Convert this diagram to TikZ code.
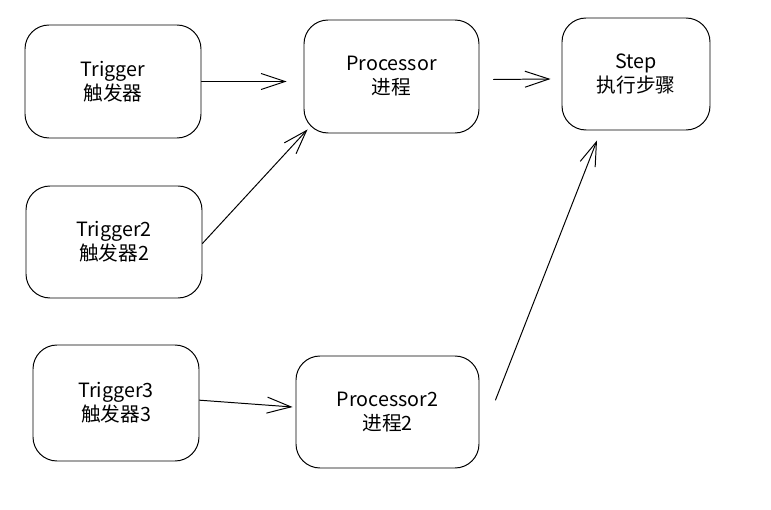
\documentclass[tikz,border=0pt]{standalone}
\usepackage{fontspec}
\setmainfont{Noto Sans CJK SC}
\usetikzlibrary{arrows.meta}
\begin{document}
\begin{tikzpicture}[line cap=round,
    x=0.025cm,y=-0.025cm,
    box/.style={draw,line width=0.7pt,rounded corners=0.6cm,align=center,
      inner sep=0pt,font=\fontsize{14}{17}\selectfont},
    link/.style={line width=0.7pt,-{Straight Barb[length=6mm,width=4mm,line width=0.7pt]}}]
  \useasboundingbox (0,0) rectangle (771,510);
  \node[box,minimum width=176*0.025cm,minimum height=113*0.025cm] (trig) at (113,81.5) {Trigger\\触发器};
  \node[box,minimum width=176*0.025cm,minimum height=112*0.025cm] (trig2) at (114,242) {Trigger2\\触发器2};
  \node[box,minimum width=166*0.025cm,minimum height=116*0.025cm] (trig3) at (116,403) {Trigger3\\触发器3};
  \node[box,minimum width=175*0.025cm,minimum height=113*0.025cm] (proc) at (391.5,76.5) {Processor\\进程};
  \node[box,minimum width=183*0.025cm,minimum height=112*0.025cm] (proc2) at (387.5,412) {Processor2\\进程2};
  \node[box,minimum width=148*0.025cm,minimum height=112*0.025cm] (step) at (636,74) {Step\\执行步骤};
  \draw[link,shorten >=12] (trig.east) -- (trig.east -| proc.west);
  \draw[link] ([shift={(14,3)}]proc.east) -- ([shift={(-11,5)}]step.west);
  \draw[link] ([yshift=-1]trig2.east) -- ([shift={(4,-4)}]proc.south west);
  \draw[link] ([yshift=2]trig3.east) -- ([shift={(-3,-5)}]proc2.west);
  \draw[link] ([shift={(16,-12)}]proc2.east) -- ([shift={(-39,10)}]step.south);
\end{tikzpicture}
\end{document}
